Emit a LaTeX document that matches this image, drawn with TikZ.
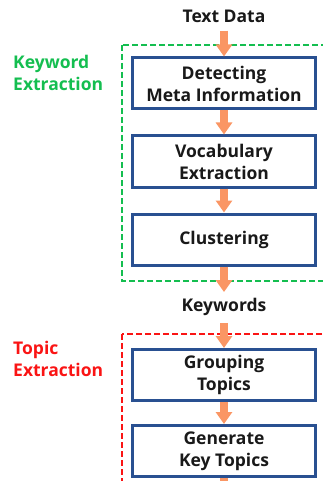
\documentclass[tikz,border=0pt]{standalone}
\usepackage{fontspec}
\setmainfont{Open Sans}
\usetikzlibrary{arrows.meta}

\definecolor{stepblue}{RGB}{41,80,145}
\definecolor{flowor}{RGB}{250,150,100}
\definecolor{kwgreen}{RGB}{20,190,80}
\definecolor{tpred}{RGB}{250,20,20}
\definecolor{ink}{RGB}{25,25,25}

\tikzset{
  stepbox/.style={draw=stepblue, line width=3pt, fill=white,
    minimum width=183pt, minimum height=51pt, align=center,
    font=\bfseries\fontsize{17.5}{22}\selectfont, text=ink, inner sep=0pt},
  plain/.style={font=\bfseries\fontsize{17.5}{22}\selectfont, text=ink, inner sep=0pt},
  grouplabel/.style={font=\bfseries\fontsize{17.5}{22}\selectfont, align=left, anchor=west, inner sep=0pt},
  groupframe/.style={line width=2.5pt, dash pattern=on 6pt off 3pt},
  flow/.style={draw=flowor, line width=8pt,
    -{Triangle[width=16pt,length=12pt]}, color=flowor}
}

\begin{document}
\begin{tikzpicture}[x=1pt,y=-1pt]
  \useasboundingbox (0,0) rectangle (323,481);
  \clip (0,0) rectangle (323,481);

  % stage frames
  \draw[groupframe, kwgreen] (122,45) rectangle (335,281);
  \draw[groupframe, tpred] (122,334) rectangle (335,500);

  % stage labels
  \node[grouplabel, text=kwgreen] (kwlab) at (13,73) {Keyword\\Extraction};
  \node[grouplabel, text=tpred] (tplab) at (13,359) {Topic\\Extraction};

  % inputs / outputs
  \node[plain] (td) at (224,16) {Text Data};
  \node[plain] (kw) at (224,307) {Keywords};

  % processing steps
  \node[stepbox] (meta) at (224,83.5) {Detecting\\Meta Information};
  \node[stepbox] (voc) at (224,161.5) {Vocabulary\\Extraction};
  \node[stepbox] (clu) at (224,239.5) {Clustering};
  \node[stepbox] (grp) at (224,375) {Grouping\\Topics};
  \node[stepbox] (gen) at (224,451) {Generate\\Key Topics};

  \coordinate (out) at (224,500);

  % flow arrows
  \draw[flow, shorten <=8pt] (td.south) -- (meta.north);
  \draw[flow] (meta.south) -- (voc.north);
  \draw[flow] (voc.south) -- (clu.north);
  \draw[flow, shorten >=6pt] (clu.south) -- (kw.north);
  \draw[flow, shorten <=7pt] (kw.south) -- (grp.north);
  \draw[flow] (grp.south) -- (gen.north);
  \draw[flow] (gen.south) -- (out);
\end{tikzpicture}
\end{document}
